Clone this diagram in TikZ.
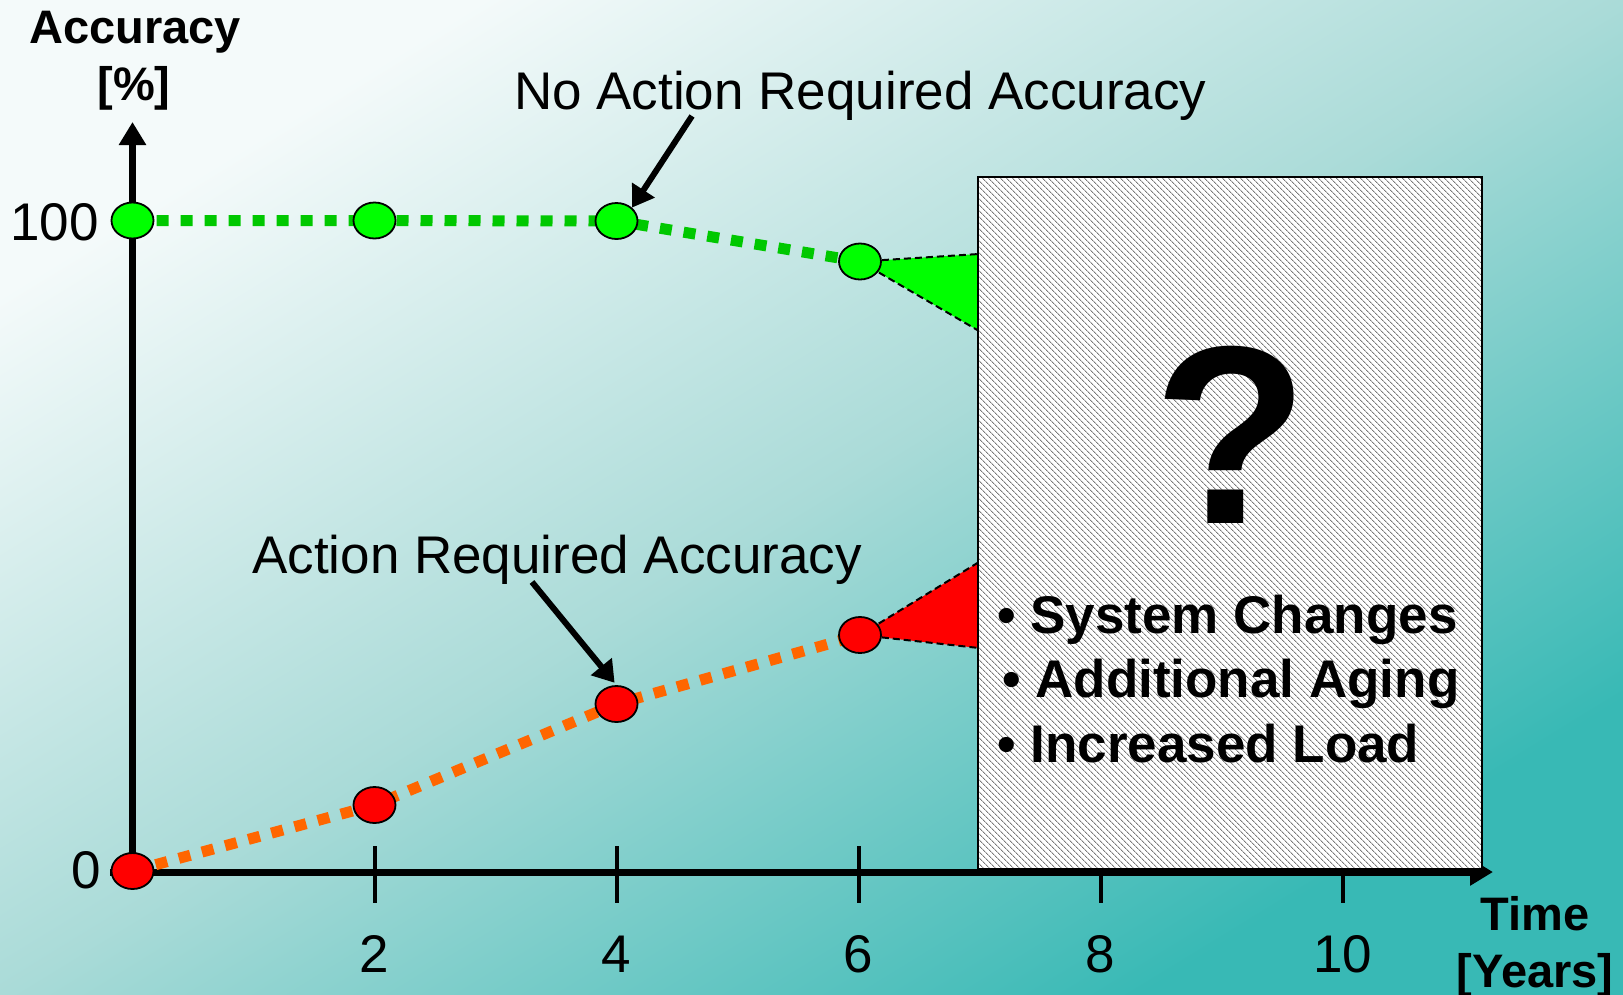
\documentclass[tikz,border=0pt]{standalone}
\usepackage{fontspec}
\setmainfont{Liberation Sans}
\usetikzlibrary{shapes.geometric,arrows.meta,patterns.meta}

\definecolor{bgLight}{HTML}{F4FAFA}
\definecolor{bgMid}{HTML}{AADBD8}
\definecolor{bgDark}{HTML}{38B9B5}
\definecolor{ptGreen}{HTML}{00FF00}
\definecolor{lnGreen}{HTML}{00C800}
\definecolor{ptRed}{HTML}{FF0000}
\definecolor{lnOrange}{HTML}{FF6600}
\definecolor{hatchGray}{HTML}{7A7A7A}

\tikzset{
  datapt/.style={ellipse, draw=black, line width=1.8pt, minimum width=42pt,
    minimum height=36pt, inner sep=0pt},
  greenpt/.style={datapt, fill=ptGreen},
  redpt/.style={datapt, fill=ptRed},
  trend/.style={line width=11pt, dash pattern=on 12pt off 12pt},
  axisline/.style={line width=7pt, -{Triangle[length=23pt,width=26pt]}},
  tickline/.style={line width=4pt},
  callout/.style={line width=6pt, -{Triangle[length=21pt,width=26pt]}},
  wedge/.style={draw=black, line width=2pt, dash pattern=on 7pt off 4pt},
  plain/.style={inner sep=0pt, font=\fontsize{53}{60}\selectfont},
  heavy/.style={inner sep=0pt, font=\fontsize{53}{64}\selectfont\bfseries},
  axislabel/.style={inner sep=0pt, align=center,
    font=\fontsize{47}{59}\selectfont\bfseries},
  hatchbox/.style={draw=black, line width=2pt, inner sep=0pt,
    preaction={fill=white},
    pattern={Lines[angle=-45, distance=4pt, line width=0.95pt]},
    pattern color=hatchGray}
}

\begin{document}
\begin{tikzpicture}[x=1pt, y=-1pt]
  \useasboundingbox (0,0) rectangle (1623,994);
  % background: diagonal gradient running corner to corner
  \begin{scope}[transform canvas={xscale=1.623, yscale=0.994}]
    \shade[top color=bgLight, bottom color=bgDark, middle color=bgMid,
           shading angle=45] (0,0) rectangle (1000,1000);
  \end{scope}

  % axes
  \coordinate (yfoot) at (132.5,876);
  \coordinate (ytip) at (132.5,122);
  \coordinate (xfoot) at (110,872);
  \coordinate (xtip) at (1493,872);
  \draw[axisline] (yfoot) -- (ytip);
  \draw[axisline] (xfoot) -- (xtip);

  % ticks and tick labels
  \foreach \t/\x in {2/374.5, 4/616.5, 6/858.5, 8/1100.5, 10/1342.5} {
    \coordinate (tt\t) at (\x,846);
    \coordinate (tb\t) at (\x,903);
    \draw[tickline] (tt\t) -- (tb\t);
    \node[plain, anchor=base] (tl\t) at (\x,972) {\t};
  }
  \node[plain, anchor=base east] (y100) at (99,240) {100};
  \node[plain, anchor=base east] (y0) at (101,888) {0};

  % axis titles
  \node[axislabel, anchor=base] (ylab1) at (135,43) {Accuracy};
  \node[axislabel, anchor=base] (ylab2) at (134,100) {[\%]};
  \node[axislabel, anchor=base] (xlab1) at (1535,930) {Time};
  \node[axislabel, anchor=base] (xlab2) at (1535,987) {[Years]};

  % data point positions
  \path
    (132.5,220.5) coordinate (pg0)
    (374.5,220.5) coordinate (pg2)
    (616.5,221)   coordinate (pg4)
    (860,261.5)   coordinate (pg6)
    (132.5,871)   coordinate (pr0)
    (374.5,805)   coordinate (pr2)
    (616.5,704)   coordinate (pr4)
    (860,635)     coordinate (pr6);

  % trend lines
  \draw[trend, lnGreen] (pg0) -- (pg2) -- (pg4) -- (pg6);
  \draw[trend, lnOrange] (pr0) -- (pr2) -- (pr4) -- (pr6);

  % spreading wedges towards the unknown future
  \coordinate (gwTop) at (979,254);
  \coordinate (gwBot) at (979,331);
  \coordinate (rwTop) at (979,562);
  \coordinate (rwBot) at (979,648);
  \fill[ptGreen] (pg6) -- (gwTop) -- (gwBot) -- cycle;
  \draw[wedge] (pg6) -- (gwTop);
  \draw[wedge] (pg6) -- (gwBot);
  \fill[ptRed] (pr6) -- (rwTop) -- (rwBot) -- cycle;
  \draw[wedge] (pr6) -- (rwTop);
  \draw[wedge] (pr6) -- (rwBot);

  % hatched box of uncertainty
  \node[hatchbox, minimum width=504pt, minimum height=692pt] (future)
    at (1230,523) {};
  \node[inner sep=0pt, anchor=base, font=\fontsize{254}{260}\selectfont\bfseries]
    (qmark) at (1231,523) {?};
  \node[heavy, anchor=base west] (b1) at (997,633) {• System Changes};
  \node[heavy, anchor=base west] (b2) at (1002,697) {• Additional Aging};
  \node[heavy, anchor=base west] (b3) at (997,762) {• Increased Load};

  % point markers
  \node[greenpt] (g0) at (pg0) {};
  \node[greenpt] (g2) at (pg2) {};
  \node[greenpt] (g4) at (pg4) {};
  \node[greenpt] (g6) at (pg6) {};
  \node[redpt] (r0) at (pr0) {};
  \node[redpt] (r2) at (pr2) {};
  \node[redpt] (r4) at (pr4) {};
  \node[redpt] (r6) at (pr6) {};

  % callouts
  \node[plain, anchor=base west] (noact) at (514,109.5)
    {No Action Required Accuracy};
  \node[plain, anchor=base west] (act) at (252,573.5)
    {Action Required Accuracy};
  \coordinate (noactTail) at (692,116);
  \coordinate (actTail) at (532,582);
  \draw[callout] (noactTail) -- (g4.north east);
  \draw[callout, shorten >=3pt] (actTail) -- (r4.north);
\end{tikzpicture}
\end{document}
